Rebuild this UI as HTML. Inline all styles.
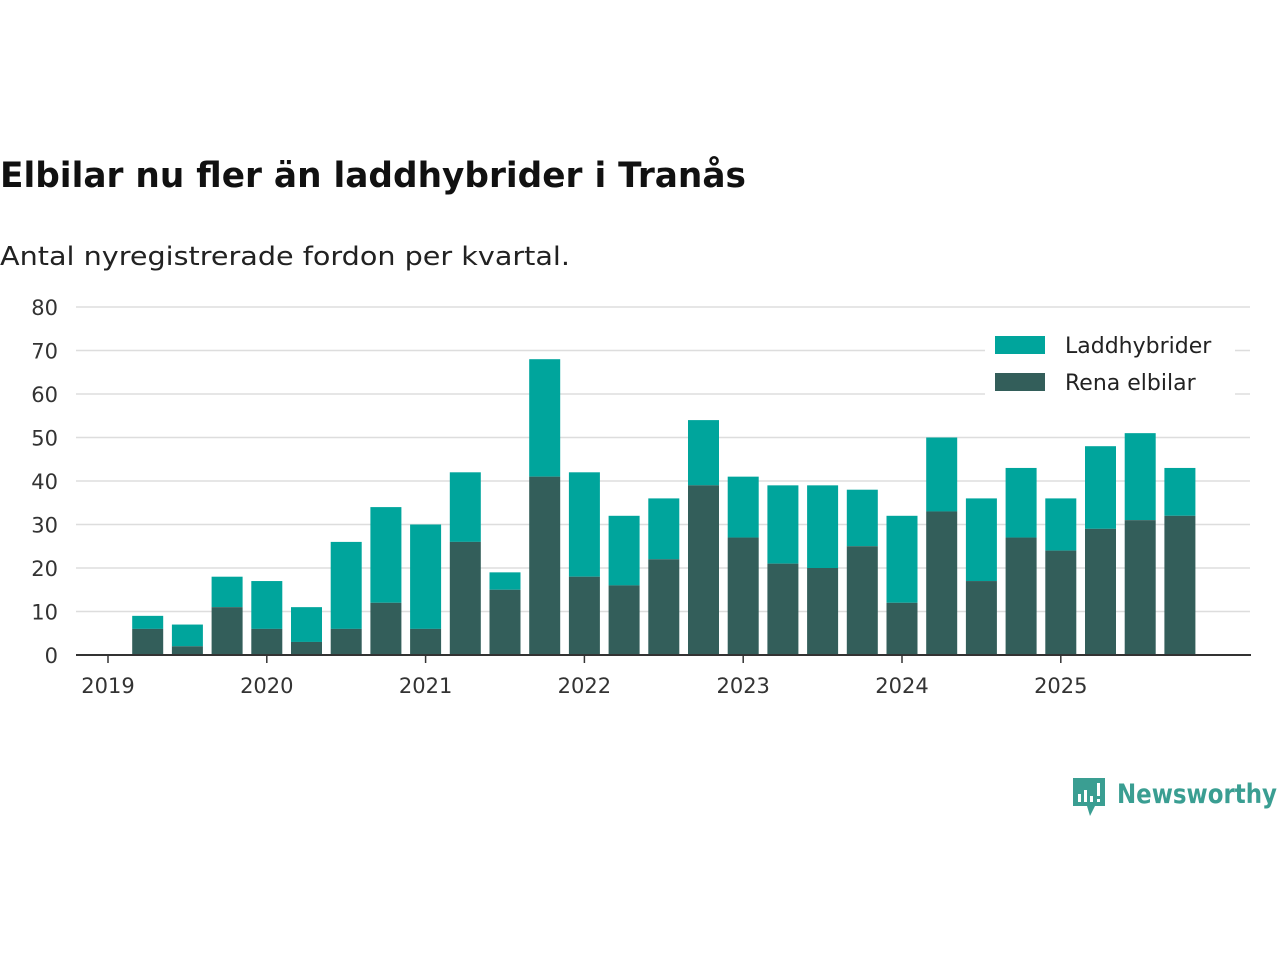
<!DOCTYPE html>
<html><head><meta charset="utf-8"><style>
body{margin:0;background:#fff;width:1280px;height:960px;overflow:hidden;font-family:"DejaVu Sans","Liberation Sans",sans-serif;}
</style></head><body>
<svg width="1280" height="960" xmlns="http://www.w3.org/2000/svg">
<text x="0" y="187" font-size="35" font-weight="bold" fill="#111" style="font-family:'DejaVu Sans',sans-serif" textLength="746" lengthAdjust="spacingAndGlyphs">Elbilar nu fler än laddhybrider i Tranås</text>
<text x="0" y="265" font-size="26" fill="#222" textLength="570" lengthAdjust="spacingAndGlyphs">Antal nyregistrerade fordon per kvartal.</text>
<g id="grid"></g><g id="bars"></g><g id="axes"></g>
<g>
<rect x="985" y="327" width="250" height="68" fill="#fff"/>
<rect x="995" y="336" width="50" height="18" fill="#00a59c"/>
<text x="1065" y="353" font-size="22" fill="#222">Laddhybrider</text>
<rect x="995" y="373" width="50" height="18" fill="#335e5a"/>
<text x="1065" y="390" font-size="22" fill="#222">Rena elbilar</text>
</g>
<g>
<path d="M1073 778h32v28h-10l-5 10-3-10h-14z" fill="#3a9e92"/>
<rect x="1078" y="794" width="3" height="8" fill="#fff"/><rect x="1084" y="790" width="3" height="12" fill="#fff"/><rect x="1090" y="796" width="3" height="6" fill="#fff"/><rect x="1097" y="783" width="3" height="13" fill="#fff"/><rect x="1097" y="799" width="3" height="3" fill="#fff"/>
<text x="1117" y="803" font-size="27" font-weight="bold" fill="#3a9e92" textLength="160" lengthAdjust="spacingAndGlyphs">Newsworthy</text>
</g>
</svg>
<script>
const totals=[9,7,18,17,11,26,34,30,42,19,68,42,32,36,54,41,39,39,38,32,50,36,43,36,48,51,43];
const elbilar=[6,2,11,6,3,6,12,6,26,15,41,18,16,22,39,27,21,20,25,12,33,17,27,24,29,31,32];
const yTicks=[0,10,20,30,40,50,60,70,80];
const xYears=[2019,2020,2021,2022,2023,2024,2025];
const NS="http://www.w3.org/2000/svg";
const y=v=>655-v*4.35;
const xq=q=>108+q*39.7;
const xy=yr=>108+(yr-2019)*158.8;
function mk(t,a,p){const e=document.createElementNS(NS,t);for(const k in a)e.setAttribute(k,a[k]);document.getElementById(p).appendChild(e);return e;}
yTicks.forEach(v=>{
 const l=mk('line',{x1:76,x2:1250,y1:y(v),y2:y(v),stroke:'#ddd','stroke-width':1.5},'grid');
 
 
 const t=mk('text',{x:58,y:y(v)+8,'font-size':21,fill:'#333','text-anchor':'end'},'axes');
 t.textContent=v;
 
 
});
totals.forEach((tot,i)=>{
 const cx=xq(i+1),e=elbilar[i];
 const r1=mk('rect',{x:cx-15.5,y:y(tot),width:31,height:y(e)-y(tot),fill:'#00a59c'},'bars');
 
 
 const r2=mk('rect',{x:cx-15.5,y:y(e),width:31,height:655-y(e),fill:'#335e5a'},'bars');
 
 
});
const ax=mk('line',{x1:76,x2:1251,y1:655,y2:655,stroke:'#333','stroke-width':2},'axes');


xYears.forEach(yr=>{
 const tk=mk('line',{x1:xy(yr),x2:xy(yr),y1:655,y2:663,stroke:'#333','stroke-width':1.5},'axes');
 
 
 const t=mk('text',{x:xy(yr),y:693,'font-size':21,fill:'#333','text-anchor':'middle'},'axes');
 t.textContent=yr;
 
 
});
</script>
</body></html>
